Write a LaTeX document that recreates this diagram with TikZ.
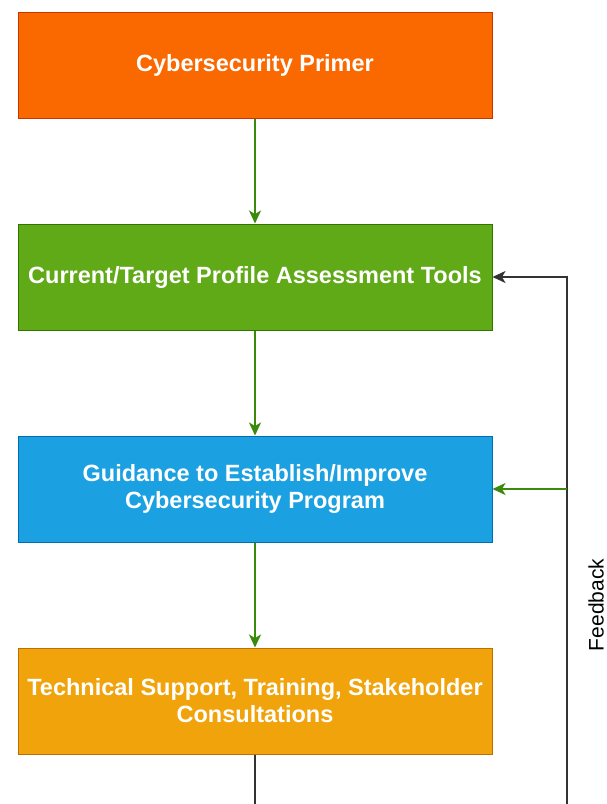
\documentclass[tikz,border=0pt]{standalone}
\usepackage{fontspec}
\setmainfont{Liberation Sans}
\usetikzlibrary{arrows.meta}
\definecolor{primerfill}{HTML}{FA6800}\definecolor{primerline}{HTML}{C73500}
\definecolor{toolfill}{HTML}{60A917}\definecolor{toolline}{HTML}{2D7600}
\definecolor{guidefill}{HTML}{1BA1E2}\definecolor{guideline}{HTML}{006EAF}
\definecolor{supfill}{HTML}{F0A30A}\definecolor{supline}{HTML}{BD7000}
\definecolor{flowgreen}{HTML}{3A8A0E}
\definecolor{fbline}{HTML}{333333}
\begin{document}
\begin{tikzpicture}[x=1pt,y=-1pt,
  stagebox/.style={draw, line width=1pt, minimum width=474pt, minimum height=106pt,
    text=white, font=\fontsize{23.5}{27}\selectfont\bfseries, align=center, inner sep=0pt},
  flow/.style={draw=flowgreen, line width=1.5pt, -{Stealth[length=13pt,width=12pt,inset=3.5pt]}},
  fb/.style={draw=fbline, line width=1.5pt},
  fbarrow/.style={fb, -{Stealth[length=13pt,width=12pt,inset=3.5pt]}}]
  \useasboundingbox (0,0) rectangle (607,804);
  \node[stagebox, fill=primerfill, draw=primerline] (primer) at (255,65) {Cybersecurity Primer};
  \node[stagebox, fill=toolfill, draw=toolline] (tools) at (255,277) {Current/Target Profile Assessment Tools};
  \node[stagebox, fill=guidefill, draw=guideline] (guide) at (255,489) {Guidance to Establish/Improve\\Cybersecurity Program};
  \node[stagebox, fill=supfill, draw=supline] (support) at (255,701) {Technical Support, Training, Stakeholder\\Consultations};
  \coordinate (loopbot) at (255,806);
  \coordinate (fbbot) at (567,806);
  \coordinate (fbtop) at (567,277);
  \coordinate (fbmid) at (567,489);
  \draw[flow] (primer) -- (tools);
  \draw[flow] (tools) -- (guide);
  \draw[flow] (guide) -- (support);
  \draw[fb] (support) -- (loopbot);
  \draw[fbarrow] (fbbot) -- (fbtop) -- (tools.east);
  \draw[flow] (fbmid) -- (guide.east);
  \node[rotate=90, font=\fontsize{21}{24}\selectfont] (fblabel) at (596,605) {Feedback};
\end{tikzpicture}
\end{document}
